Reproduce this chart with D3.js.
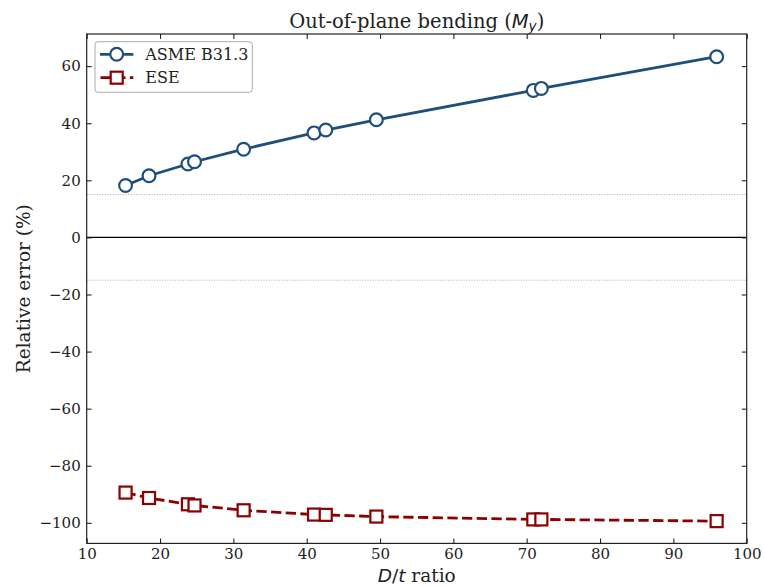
<!DOCTYPE html>
<html>
<head>
<meta charset="utf-8">
<script src="https://cdn.jsdelivr.net/npm/d3@7"></script>
<style>
  html, body { margin: 0; padding: 0; background: #fff; }
  svg { display: block; font-family: "DejaVu Serif", serif; }
</style>
</head>
<body>
<div id="chart"></div>
<script>
// D/t ratio of each specimen
const dtRatio = [15.3, 18.5, 23.8, 24.7, 31.4, 41.0, 42.6, 49.5, 70.9, 72.0, 95.9];
// relative error (%) per method
const asmeError = [18.2, 21.6, 25.7, 26.5, 30.9, 36.6, 37.6, 41.2, 51.5, 52.2, 63.3];
const eseError = [-89.4, -91.3, -93.5, -93.9, -95.6, -97.1, -97.2, -97.8, -98.8, -98.8, -99.4];
const xTicks = [10, 20, 30, 40, 50, 60, 70, 80, 90, 100];
const yTicks = [-100, -80, -60, -40, -20, 0, 20, 40, 60];
const bandLines = [15, -15];

const width = 764,
  height = 586;
const margin = { top: 34, right: 17.3, bottom: 42.6, left: 86.7 };
const innerW = width - margin.left - margin.right;
const innerH = height - margin.top - margin.bottom;
const blue = "#1f4e79",
  red = "#8b0000";

const svg = d3
  .select("#chart")
  .append("svg")
  .attr("width", width)
  .attr("height", height);

const chart = svg
  .append("g")
  .attr("transform", `translate(${margin.left},${margin.top})`);

const xScale = d3.scaleLinear().domain([10, 100]).range([0, innerW]);
const yScale = d3.scaleLinear().domain([-107.2, 71.25]).range([innerH, 0]);

//reference lines
chart
  .selectAll(".band")
  .data(bandLines)
  .enter()
  .append("line")
  .attr("x1", 0)
  .attr("x2", innerW)
  .attr("y1", (d) => yScale(d))
  .attr("y2", (d) => yScale(d))
  .attr("stroke", "#999")
  .attr("stroke-width", 0.8)
  .attr("stroke-dasharray", "1,1.6");

chart
  .append("line")
  .attr("x1", 0)
  .attr("x2", innerW)
  .attr("y1", yScale(0))
  .attr("y2", yScale(0))
  .attr("stroke", "#000")
  .attr("stroke-width", 1.4);

//axes with inward ticks on all four sides
const tickLen = 4.9;
const styleAxis = (g) => {
  g.select(".domain").remove();
  g.selectAll(".tick line").attr("stroke", "#222").attr("stroke-width", 1.1);
  g.selectAll(".tick text")
    .attr("font-family", "DejaVu Serif")
    .attr("font-size", 15)
    .attr("fill", "#222");
};
chart
  .append("g")
  .attr("transform", `translate(0,${innerH})`)
  .call(
    d3.axisBottom(xScale).tickValues(xTicks).tickSizeInner(-tickLen).tickSizeOuter(0).tickPadding(5)
  )
  .call(styleAxis);
chart
  .append("g")
  .call(d3.axisTop(xScale).tickValues(xTicks).tickSizeInner(-tickLen).tickSizeOuter(0).tickFormat(""))
  .call(styleAxis);
chart
  .append("g")
  .call(
    d3.axisLeft(yScale).tickValues(yTicks).tickSizeInner(-tickLen).tickSizeOuter(0).tickPadding(6)
      .tickFormat((d) => (d < 0 ? "\u2212" + Math.abs(d) : d))
  )
  .call(styleAxis);
chart
  .append("g")
  .attr("transform", `translate(${innerW},0)`)
  .call(d3.axisRight(yScale).tickValues(yTicks).tickSizeInner(-tickLen).tickSizeOuter(0).tickFormat(""))
  .call(styleAxis);

chart
  .append("rect")
  .attr("width", innerW)
  .attr("height", innerH)
  .attr("fill", "none")
  .attr("stroke", "#222")
  .attr("stroke-width", 1.2);

//series
const series = [
  { name: "ASME B31.3", values: asmeError, color: blue, dash: null, marker: "circle" },
  { name: "ESE", values: eseError, color: red, dash: "10.3,4.4", marker: "square" },
];
const line = d3
  .line()
  .x((d) => xScale(d[0]))
  .y((d) => yScale(d[1]));

const drawMarker = (g, type, color) => {
  if (type === "circle") {
    g.append("circle")
      .attr("r", 6.4)
      .attr("fill", "#fff")
      .attr("stroke", color)
      .attr("stroke-width", 2.2);
  } else {
    g.append("rect")
      .attr("x", -6)
      .attr("y", -6)
      .attr("width", 12)
      .attr("height", 12)
      .attr("fill", "#fff")
      .attr("stroke", color)
      .attr("stroke-width", 2.2);
  }
};

series.forEach((s) => {
  const pts = dtRatio.map((x, i) => [x, s.values[i]]);
  chart
    .append("path")
    .datum(pts)
    .attr("d", line)
    .attr("fill", "none")
    .attr("stroke", s.color)
    .attr("stroke-width", 2.8)
    .attr("stroke-dasharray", s.dash);
  pts.forEach((p) => {
    const g = chart
      .append("g")
      .attr("transform", `translate(${xScale(p[0])},${yScale(p[1])})`);
    drawMarker(g, s.marker, s.color);
  });
});

//legend
const legend = svg.append("g").attr("transform", "translate(95,41.7)");
legend
  .append("rect")
  .attr("width", 157.3)
  .attr("height", 50.6)
  .attr("rx", 3)
  .attr("fill", "#fff")
  .attr("fill-opacity", 0.8)
  .attr("stroke", "#aaa")
  .attr("stroke-width", 1);
series.forEach((s, i) => {
  const ly = 12.6 + i * 23.4;
  legend
    .append("line")
    .attr("x1", 5)
    .attr("x2", 38.3)
    .attr("y1", ly)
    .attr("y2", ly)
    .attr("stroke", s.color)
    .attr("stroke-width", 2.8)
    .attr("stroke-dasharray", s.dash ? "10.3,4.4" : null)
    .attr("stroke-dashoffset", s.dash ? -0.5 : null);
  const g = legend.append("g").attr("transform", `translate(21.7,${ly})`);
  drawMarker(g, s.marker, s.color);
  legend
    .append("text")
    .attr("x", 50.3)
    .attr("y", ly + 5.6)
    .attr("font-size", 16)
    .attr("fill", "#222")
    .text(s.name);
});

//title and axis labels
const title = svg
  .append("text")
  .attr("x", margin.left + innerW / 2)
  .attr("y", 27.5)
  .attr("text-anchor", "middle")
  .attr("font-size", 19.5)
  .attr("fill", "#222");
title.append("tspan").text("Out-of-plane bending (");
title.append("tspan").attr("font-family", "DejaVu Sans").attr("font-style", "italic").text("M");
title
  .append("tspan")
  .attr("font-family", "DejaVu Sans")
  .attr("font-style", "italic")
  .attr("font-size", 13.6)
  .attr("dy", 3.8)
  .text("y");
title.append("tspan").attr("dy", -3.8).text(")");

const xLabel = svg
  .append("text")
  .attr("x", margin.left + innerW / 2)
  .attr("y", 581.5)
  .attr("text-anchor", "middle")
  .attr("font-size", 18.5)
  .attr("fill", "#222");
xLabel.append("tspan").attr("font-family", "DejaVu Sans").attr("font-style", "italic").text("D");
xLabel.append("tspan").attr("font-family", "DejaVu Sans").text("/");
xLabel.append("tspan").attr("font-family", "DejaVu Sans").attr("font-style", "italic").text("t");
xLabel.append("tspan").text(" ratio");

svg
  .append("text")
  .attr("transform", `translate(30,${margin.top + innerH / 2}) rotate(-90)`)
  .attr("text-anchor", "middle")
  .attr("font-size", 18.5)
  .attr("fill", "#222")
  .text("Relative error (%)");
</script>
</body>
</html>
